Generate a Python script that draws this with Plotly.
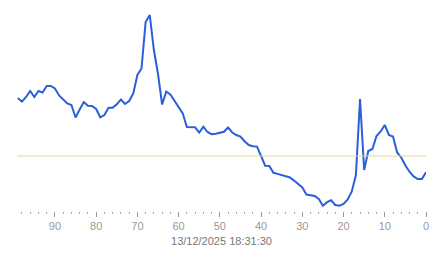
import plotly.graph_objects as go

# x positions (counting down from 99 to 0)
x_vals = list(range(99, -1, -1))
# series values (arbitrary units)
y_vals = [122, 118.3, 123, 129, 123, 129, 127.5, 134, 134, 131.5,
          124.5, 120.5, 116.5, 115, 102.5, 110.5, 118, 114.2, 114, 111,
          102.7, 105, 112.3, 112.3, 115.7, 120.5, 116, 119, 126.5, 145,
          151.5, 198, 205, 170, 146, 115.5, 128.5, 125.5, 119.2, 113.7,
          106.5, 93, 92.7, 92.7, 87.5, 93.3, 88, 85.8, 86.2, 87,
          88.2, 92.5, 87.5, 85, 83.3, 78.8, 75, 73.8, 73.4, 64,
          54.3, 54, 47.2, 46.1, 45, 44.2, 42.5, 39.4, 36, 32.5,
          25.5, 25, 24, 21, 14.3, 17.8, 19.7, 15, 14.3, 16,
          20.5, 28.5, 45, 121, 50, 69, 71, 84, 88.5, 95,
          85, 83.5, 67.5, 62.5, 54.5, 48.3, 43.6, 41, 41, 47.7]
ref_value = 64
title_text = "13/12/2025 18:31:30"

fig = go.Figure()
fig.add_trace(go.Scatter(x=x_vals, y=y_vals, mode="lines",
                         line=dict(color="#2b5fd9", width=2), hoverinfo="skip"))
fig.add_shape(type="line", xref="paper", x0=0, x1=1, yref="y", y0=ref_value, y1=ref_value,
              line=dict(color="#e8d88c", width=1))

fig.update_layout(
    width=443, height=258,
    margin=dict(l=17, r=17, t=10, b=47),
    paper_bgcolor="white", plot_bgcolor="white",
    showlegend=False,
    xaxis=dict(range=[99.2, 0], showgrid=False, zeroline=False, showline=False,
               tickmode="array", tickvals=list(range(0, 100, 10)),
               ticktext=[str(v) for v in range(0, 100, 10)],
               ticks="outside", ticklen=5, tickcolor="#999", tickwidth=1,
               tickfont=dict(family="Liberation Sans, Arial", size=11, color="#999"),
               minor=dict(tickmode="array", tickvals=list(range(0, 100, 2)),
                          ticks="outside", ticklen=2, tickcolor="#aaa", showgrid=False),
               title=dict(text=title_text, standoff=6,
                          font=dict(family="Liberation Sans, Arial", size=11, color="#777"))),
    yaxis=dict(range=[9, 210], visible=False, showgrid=False, zeroline=False),
)
fig.write_html("out.html")
